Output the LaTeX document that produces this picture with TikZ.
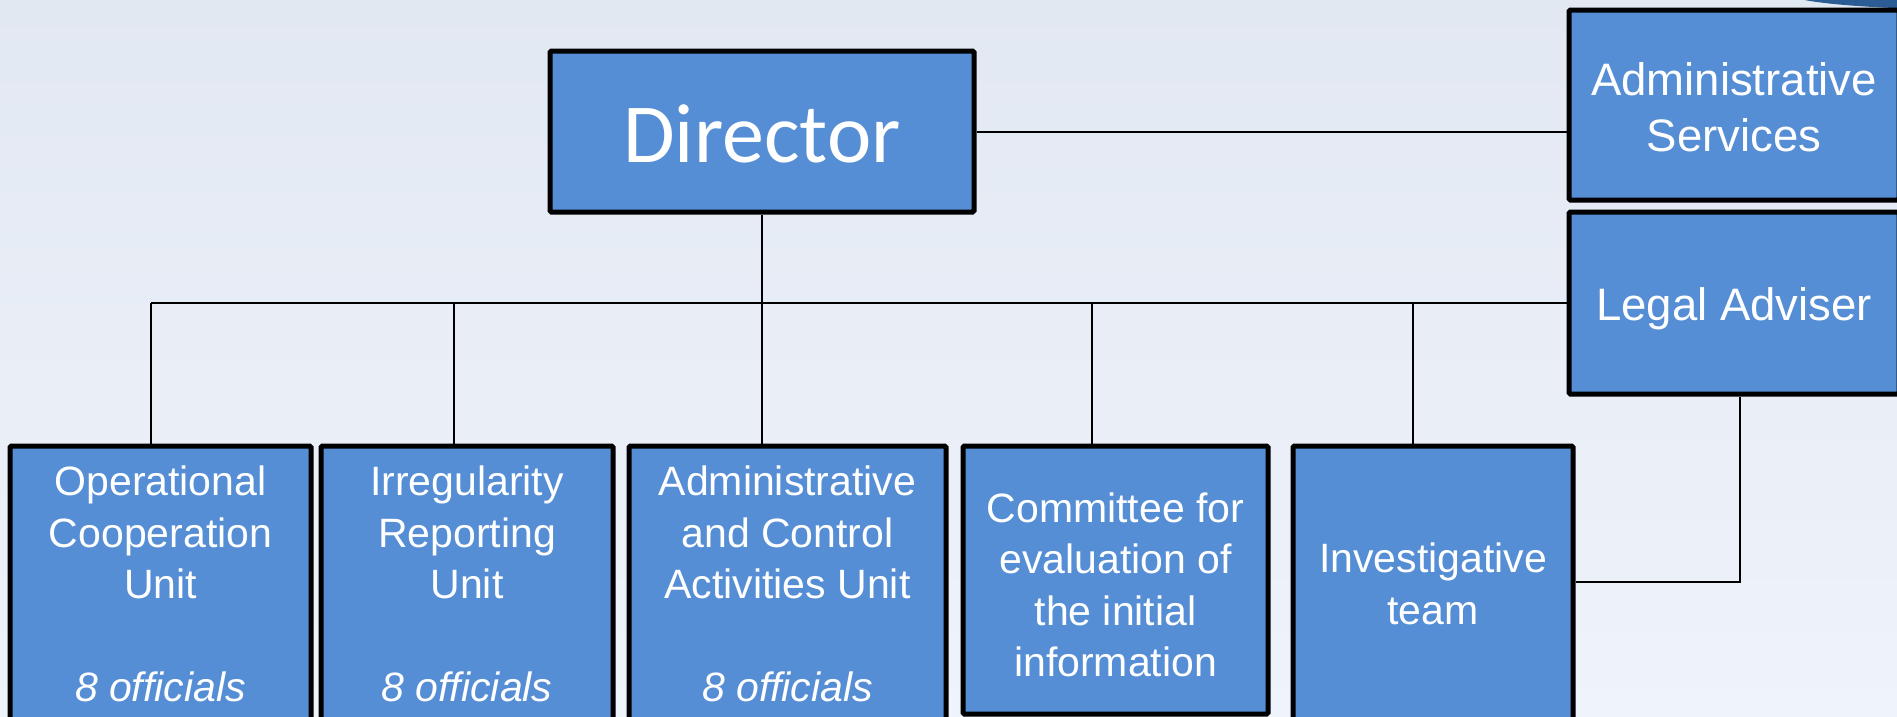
\documentclass[tikz,border=0pt]{standalone}
\usepackage{fontspec}
\setmainfont{Liberation Sans}
\newfontfamily\dirfont{Carlito}
\definecolor{boxblue}{HTML}{558ED5}
\definecolor{bgtop}{HTML}{E2E8F2}
\definecolor{bgbot}{HTML}{EFF3FB}
\definecolor{deco}{HTML}{2B5C95}
\begin{document}
\begin{tikzpicture}[x=1pt,y=-1pt,
  box/.style={draw=black, line width=5pt, fill=boxblue, rounded corners=1.5pt,
    inner sep=0pt, text=white, align=center},
  boxtext/.style={text=white, align=center, inner sep=0pt},
  conn/.style={line width=2pt, draw=black},
  unitfont/.style={font=\fontsize{41}{51.5}\selectfont},
  sidefont/.style={font=\fontsize{45.5}{56}\selectfont}]
\useasboundingbox (0,0) rectangle (1897,716);
\clip (0,0) rectangle (1897,716);
\shade[top color=bgtop, bottom color=bgbot] (0,0) rectangle (1897,716);
\fill[deco] (1990,-6) ellipse [x radius=200, y radius=16];

% top level
\node[box, minimum width=424pt, minimum height=161pt] (dir) at (762,131.5) {};
\node[boxtext, font=\dirfont\fontsize{84}{90}\selectfont] (tdir) at ([yshift=-2pt]dir.center) {Director};
\node[box, sidefont, minimum width=330pt, minimum height=190pt] (adm) at (1734,105) {};
\node[boxtext, sidefont] (tadm) at ([yshift=-2pt]adm.center) {Administrative\\Services};
\node[box, minimum width=330pt, minimum height=182pt] (leg) at (1734,303) {};
\node[boxtext, sidefont] (tleg) at ([yshift=-6pt]leg.center) {Legal Adviser};

% units
\node[box, unitfont, minimum width=301pt, minimum height=276pt] (b1) at (160.5,584)
  {Operational\\Cooperation\\Unit\\[51.5pt]\textit{8 officials}};
\node[box, unitfont, minimum width=292pt, minimum height=276pt] (b2) at (467,584)
  {Irregularity\\Reporting\\Unit\\[51.5pt]\textit{8 officials}};
\node[box, unitfont, minimum width=317pt, minimum height=276pt] (b3) at (787.5,584)
  {Administrative\\and Control\\Activities Unit\\[51.5pt]\textit{8 officials}};
\node[box, minimum width=305pt, minimum height=268pt] (b4) at (1115.5,580) {};
\node[boxtext, unitfont] (t4) at ([yshift=-5pt]b4.center)
  {Committee for\\evaluation of\\the initial\\information};
\node[box, unitfont, minimum width=280pt, minimum height=276pt] (b5) at (1433,584)
  {Investigative\\team};

% connectors
\coordinate (j0) at (762,303);
\coordinate (j1) at (151,303);
\coordinate (j2) at (454,303);
\coordinate (j4) at (1092,303);
\coordinate (j5) at (1413,303);
\coordinate (lk) at (1740,582);

\draw[conn] (dir.east) -- (dir.east -| adm.west);
\draw[conn] (dir.south) -- (j0);
\draw[conn] (j1) -- (j1 -| leg.west);
\draw[conn] (j1) -- (j1 |- b1.north);
\draw[conn] (j2) -- (j2 |- b2.north);
\draw[conn] (j0) -- (j0 |- b3.north);
\draw[conn] (j4) -- (j4 |- b4.north);
\draw[conn] (j5) -- (j5 |- b5.north);
\draw[conn] (lk |- leg.south) -- (lk) -- (lk -| b5.east);
\end{tikzpicture}
\end{document}
